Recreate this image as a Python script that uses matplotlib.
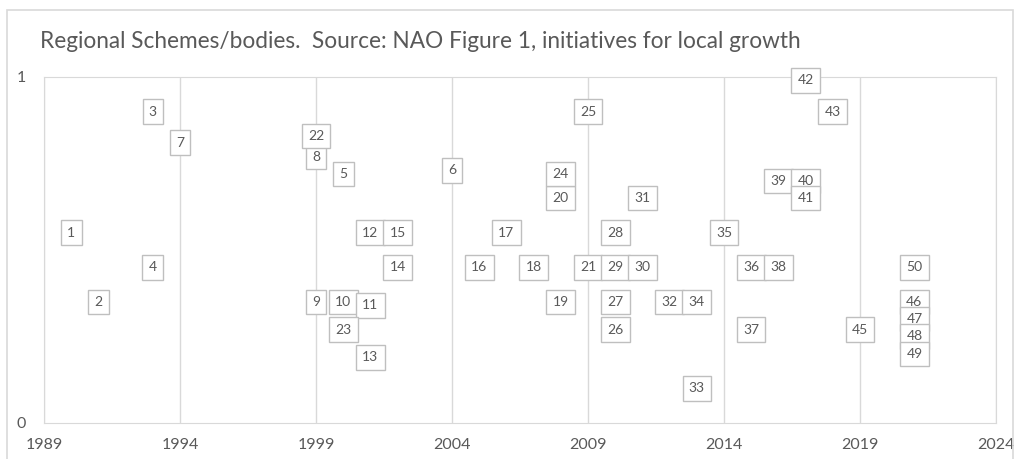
import matplotlib.pyplot as plt
from matplotlib.patches import Rectangle

labels = [1, 2, 3, 4, 5, 6, 7, 8, 9, 10, 11, 12, 13, 14, 15, 16, 17, 18, 19, 20,
          21, 22, 23, 24, 25, 26, 27, 28, 29, 30, 31, 32, 33, 34, 35, 36, 37, 38,
          39, 40, 41, 42, 43, 45, 46, 47, 48, 49, 50]
years = [1990, 1991, 1993, 1993, 2000, 2004, 1994, 1999, 1999, 2000, 2001, 2001,
         2001, 2002, 2002, 2005, 2006, 2007, 2008, 2008, 2009, 1999, 2000, 2008,
         2009, 2010, 2010, 2010, 2010, 2011, 2011, 2012, 2013, 2013, 2014, 2015,
         2015, 2016, 2016, 2017, 2017, 2017, 2018, 2019, 2021, 2021, 2021, 2021, 2021]
levels = [0.55, 0.35, 0.90, 0.45, 0.72, 0.73, 0.81, 0.77, 0.35, 0.35, 0.34, 0.55,
          0.19, 0.45, 0.55, 0.45, 0.55, 0.45, 0.35, 0.65, 0.45, 0.83, 0.27, 0.72,
          0.90, 0.27, 0.35, 0.55, 0.45, 0.45, 0.65, 0.35, 0.10, 0.35, 0.55, 0.45,
          0.27, 0.45, 0.70, 0.70, 0.65, 0.99, 0.90, 0.27, 0.35, 0.30, 0.25, 0.20, 0.45]
xticks = [1989, 1994, 1999, 2004, 2009, 2014, 2019, 2024]

plt.rcParams['font.family'] = ['Lato', 'DejaVu Sans']
grey = '#595959'
line = '#d9d9d9'

fig = plt.figure(figsize=(10.22, 4.59), dpi=100)
fig.patches.append(Rectangle((7 / 1022, -0.02), 1006 / 1022, 1.02 - 10 / 459,
                             transform=fig.transFigure, fill=False,
                             edgecolor=line, linewidth=1.2))
ax = fig.add_axes([44 / 1022, 36 / 459, 952 / 1022, 346 / 459])

ax.scatter(years, levels, s=0)
for i, (lab, x, y) in enumerate(zip(labels, years, levels)):
    ax.text(x, y, str(lab), ha='center', va='center', fontsize=10, color=grey,
            zorder=3 + i,
            bbox=dict(boxstyle='square,pad=0.45', facecolor='white',
                      edgecolor='#bfbfbf', linewidth=1))

ax.set_xlim(1989, 2024)
ax.set_ylim(0, 1)
ax.set_xticks(xticks)
ax.set_yticks([0, 1])
ax.grid(axis='x', color=line, linewidth=1)
ax.set_axisbelow(True)
for s in ax.spines.values():
    s.set_color(line)
ax.tick_params(length=0, colors=grey, labelsize=11.5)
ax.tick_params(axis='y', pad=13)
ax.tick_params(axis='x', pad=11)

fig.text(40 / 1022, 1 - 42 / 459, 'Regional Schemes/bodies.  Source: NAO Figure 1, initiatives for local growth',
         fontsize=16.3, color=grey, ha='left', va='center')

fig.savefig('out.png', dpi=100)
